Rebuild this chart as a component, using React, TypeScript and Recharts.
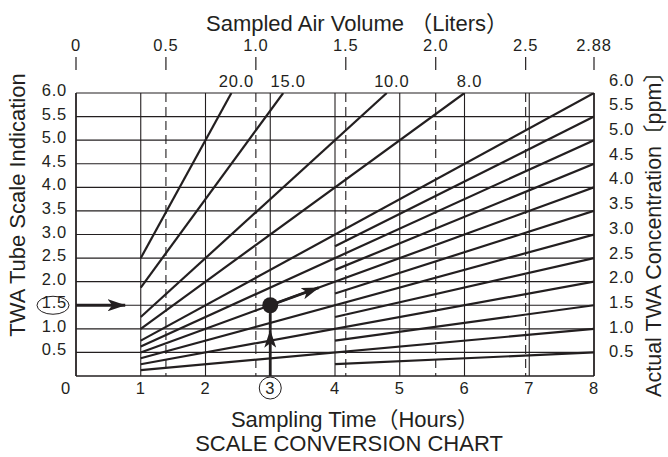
import React from 'react';
import { ComposedChart, Line, XAxis, YAxis, CartesianGrid, ReferenceLine, ReferenceDot, Label } from 'recharts';

// ---- data ----
const hourTicks = [0, 1, 2, 3, 4, 5, 6, 7, 8];
const volumeTicks = [0, 0.5, 1.0, 1.5, 2.0, 2.5, 2.88];
const volumeLabels = ['0', '0.5', '1.0', '1.5', '2.0', '2.5', '2.88'];
const dashedVolumes = [0.5, 1.0, 1.5, 2.0, 2.5];
const readingTicks = [0.5, 1.0, 1.5, 2.0, 2.5, 3.0, 3.5, 4.0, 4.5, 5.0, 5.5, 6.0];
const concentrationTicks = [0.5, 1.0, 1.5, 2.0, 2.5, 3.0, 3.5, 4.0, 4.5, 5.0, 5.5, 6.0];

const lineConcentrations = [0.5, 1.0, 1.5, 2.0, 2.5, 3.0, 3.5, 4.0, 4.5, 5.0, 5.5, 6.0, 8.0, 10.0, 15.0, 20.0];
const lineStartHours = [4, 1, 4, 1, 4, 1, 4, 1, 4, 1, 4, 1, 1, 1, 1, 1];
const lineStartReadings = [0.25, 0.125, 0.75, 0.25, 1.25, 0.375, 1.75, 0.5, 2.25, 0.625, 2.75, 0.75, 1.0, 1.25, 1.875, 2.5];
const lineEndHours = [8, 8, 8, 8, 8, 8, 8, 8, 8, 8, 8, 8, 6.0, 4.8, 3.2, 2.4];
const lineEndReadings = [0.5, 1.0, 1.5, 2.0, 2.5, 3.0, 3.5, 4.0, 4.5, 5.0, 5.5, 6.0, 6.0, 6.0, 6.0, 6.0];
const labelledConcentrations = [8.0, 10.0, 15.0, 20.0];

// worked example
const markedReading = 1.5;
const markedHour = 3;
const inputArrowHours = [0, 0.76];
const inputArrowReadings = [1.5, 1.5];
const timeArrowHours = [3, 3];
const timeArrowReadings = [0, 0.97];
const timeStemReadings = [0.97, 1.5];
const resultArrowHours = [3, 3.75];
const resultArrowReadings = [1.5, 1.875];

const FONT = '"Liberation Sans", Arial, Helvetica, "Noto Sans CJK JP", sans-serif';
const INK = '#231f20';
const TICK_FS = 16.5;
const TICK_LS = 0.8;
const TITLE_FS = 22;

const zip = (ts: number[], vs: number[]) => ts.map((t, i) => ({ t, v: vs[i] }));
const volumeCarrier = volumeTicks.map((t) => ({ t }));

const HourTick = (props: any) => {
  const { x, y, payload } = props;
  const v = payload.value;
  return (
    <g>
      {v === markedHour && <circle cx={x} cy={y + 12} r={11} fill="none" stroke={INK} strokeWidth={1} />}
      <text x={v === 0 ? x - 10 : x} y={y + 18} textAnchor="middle" fontSize={TICK_FS} letterSpacing={TICK_LS}
        fontFamily={FONT} fill={INK}>
        {String(v)}
      </text>
    </g>
  );
};

const VolumeTick = (props: any) => {
  const { x, y, payload } = props;
  const label = volumeLabels[volumeTicks.indexOf(payload.value)];
  return (
    <g>
      <line x1={x} x2={x} y1={y - 13} y2={y} stroke={INK} strokeWidth={1.2} />
      <text x={x} y={y - 19} textAnchor="middle" fontSize={TICK_FS} letterSpacing={TICK_LS} fontFamily={FONT} fill={INK}>
        {label}
      </text>
    </g>
  );
};

const ReadingTick = (props: any) => {
  const { x, y, payload } = props;
  const v = payload.value;
  return (
    <g>
      {v === markedReading && <ellipse cx={x - 14} cy={y} rx={16} ry={9} fill="none" stroke={INK} strokeWidth={1} />}
      <text x={x} y={y + 3} textAnchor="end" fontSize={TICK_FS} letterSpacing={TICK_LS} fontFamily={FONT} fill={INK}>
        {v.toFixed(1)}
      </text>
    </g>
  );
};

const ConcTick = (props: any) => {
  const { x, y, payload } = props;
  return (
    <text x={x} y={y + 6} textAnchor="start" fontSize={TICK_FS} letterSpacing={TICK_LS} fontFamily={FONT} fill={INK}>
      {payload.value.toFixed(1)}
    </text>
  );
};

const makeEndLabel = (conc: number) => (props: any) => {
  const { x, y, index } = props;
  if (index !== 1 || !labelledConcentrations.includes(conc)) return null;
  return (
    <text x={x + 5} y={y - 6} textAnchor="middle" fontSize={TICK_FS} letterSpacing={TICK_LS} fontFamily={FONT} fill={INK}>
      {conc.toFixed(1)}
    </text>
  );
};

export default function App() {
  return (
    <div style={{ position: 'absolute', left: 0, top: 0, width: 668, height: 457, background: '#fff' }}>
      <svg width={0} height={0} style={{ position: 'absolute' }}>
        <defs>
          <marker id="arrowHead" viewBox="0 0 18 12" refX={17.5} refY={6} markerWidth={18} markerHeight={12}
            markerUnits="userSpaceOnUse" orient="auto">
            <path d="M0,0 L18,6 L0,12 L4.5,6 Z" fill={INK} />
          </marker>
        </defs>
      </svg>
      <ComposedChart width={668} height={457} margin={{ top: 53, right: 24, bottom: 51, left: 16 }}>
        <XAxis xAxisId="h" dataKey="t" type="number" domain={[0, 8]} allowDataOverflow ticks={hourTicks}
          interval={0} tickLine={false} tickSize={0} tickMargin={0} height={30}
          axisLine={{ stroke: INK, strokeWidth: 1.5 }} tick={<HourTick />}>
          <Label content={(p: any) => {
            const vb = p.viewBox;
            return (
              <g>
                <text x={vb.x + vb.width / 2 + 20} y={vb.y + 51} textAnchor="middle" fontSize={TITLE_FS} fontFamily={FONT} fill={INK}>
                  Sampling Time（Hours）
                </text>
                <text x={vb.x + vb.width / 2 + 14} y={vb.y + 75} textAnchor="middle" fontSize={TITLE_FS} fontFamily={FONT} fill={INK}>
                  SCALE CONVERSION CHART
                </text>
              </g>
            );
          }} />
        </XAxis>
        <XAxis xAxisId="vol" dataKey="t" orientation="top" type="number" domain={[0, 2.88]} allowDataOverflow
          ticks={volumeTicks} interval={0} axisLine={false} tickLine={false} tickSize={0} tickMargin={23} height={40}
          tick={<VolumeTick />}>
          <Label content={(p: any) => {
            const vb = p.viewBox;
            return (
              <text x={vb.x + vb.width / 2 + 22} y={vb.y - 22} textAnchor="middle" fontSize={TITLE_FS} fontFamily={FONT} fill={INK}>
                Sampled Air Volume （Liters）
              </text>
            );
          }} />
        </XAxis>
        <YAxis yAxisId="r" type="number" domain={[0, 6]} allowDataOverflow ticks={readingTicks} interval={0}
          width={60} tickLine={false} tickSize={0} tickMargin={9} axisLine={{ stroke: INK, strokeWidth: 1.5 }}
          tick={<ReadingTick />}>
          <Label content={(p: any) => {
            const vb = p.viewBox;
            const cx = 17;
            const cy = vb.y + 112;
            return (
              <text x={cx} y={cy} transform={`rotate(-90 ${cx} ${cy})`} textAnchor="middle" dominantBaseline="central"
                fontSize={TITLE_FS} fontFamily={FONT} fill={INK}>
                TWA Tube Scale Indication
              </text>
            );
          }} />
        </YAxis>
        <YAxis yAxisId="c" orientation="right" type="number" domain={[0, 5.73]} allowDataOverflow
          ticks={concentrationTicks} interval={0} width={50} tickLine={false} tickSize={0} tickMargin={15}
          axisLine={{ stroke: INK, strokeWidth: 1.5 }} tick={<ConcTick />}>
          <Label content={() => {
            const cx = 654;
            const cy = 229;
            return (
              <text x={cx} y={cy} transform={`rotate(-90 ${cx} ${cy})`} textAnchor="middle" dominantBaseline="central"
                fontSize={21.5} fontFamily={FONT} fill={INK}>
                Actual TWA Concentration〔ppm〕
              </text>
            );
          }} />
        </YAxis>

        <CartesianGrid xAxisId="h" yAxisId="r" stroke={INK} strokeWidth={1.1}
          horizontalValues={readingTicks} verticalValues={hourTicks} />

        {/* invisible carrier so the volume axis gets its domain */}
        <Line xAxisId="vol" yAxisId="r" dataKey="v" data={volumeCarrier} stroke="none" dot={false}
          activeDot={false} isAnimationActive={false} legendType="none" />

        {dashedVolumes.map((v) => (
          <ReferenceLine key={'d' + v} xAxisId="vol" yAxisId="r" x={v} stroke={INK} strokeWidth={1.1}
            strokeDasharray="9 5" />
        ))}

        {lineConcentrations.map((c, i) => (
          <Line key={'c' + c} xAxisId="h" yAxisId="r" type="linear" dataKey="v"
            data={zip([lineStartHours[i], lineEndHours[i]], [lineStartReadings[i], lineEndReadings[i]])}
            stroke={INK} strokeWidth={2.2} dot={false} activeDot={false} isAnimationActive={false}
            label={makeEndLabel(c)} />
        ))}

        <Line xAxisId="h" yAxisId="r" type="linear" dataKey="v" data={zip(inputArrowHours, inputArrowReadings)}
          stroke={INK} strokeWidth={2.8} dot={false} activeDot={false} isAnimationActive={false}
          markerEnd="url(#arrowHead)" />
        <Line xAxisId="h" yAxisId="r" type="linear" dataKey="v" data={zip(timeArrowHours, timeArrowReadings)}
          stroke={INK} strokeWidth={2.8} dot={false} activeDot={false} isAnimationActive={false}
          markerEnd="url(#arrowHead)" />
        <Line xAxisId="h" yAxisId="r" type="linear" dataKey="v" data={zip(timeArrowHours, timeStemReadings)}
          stroke={INK} strokeWidth={2.8} dot={false} activeDot={false} isAnimationActive={false} />
        <Line xAxisId="h" yAxisId="r" type="linear" dataKey="v" data={zip(resultArrowHours, resultArrowReadings)}
          stroke={INK} strokeWidth={2.8} dot={false} activeDot={false} isAnimationActive={false}
          markerEnd="url(#arrowHead)" />
        <ReferenceDot xAxisId="h" yAxisId="r" x={markedHour} y={markedReading} r={8} fill={INK} stroke="none" />
      </ComposedChart>
    </div>
  );
}
